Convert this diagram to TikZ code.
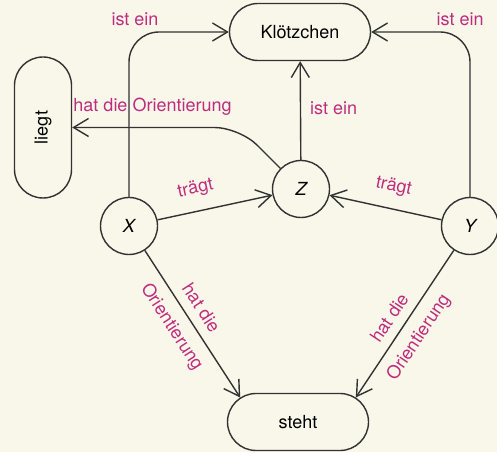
\documentclass[tikz,border=0pt]{standalone}
\usepackage{fontspec}
\setmainfont{TeX Gyre Heros}
\usetikzlibrary{arrows.meta,shapes.misc}
\definecolor{papier}{RGB}{249,247,234}
\definecolor{beschrift}{RGB}{190,45,125}
\definecolor{strich}{RGB}{50,50,50}
\tikzset{
    mypill/.style={rounded rectangle,draw=strich,line width=1.4pt,minimum width=141pt,minimum height=57pt,inner sep=0pt},
    mystate/.style={circle,draw=strich,line width=1.4pt,minimum size=57pt,inner sep=0pt,font=\fontsize{18pt}{21pt}\selectfont\itshape},
    myedge/.style={draw=strich,line width=1.4pt,-{Straight Barb[length=15pt,width=18pt]}},
    mylabel/.style={text=beschrift,inner sep=2pt},
    every node/.style={font=\fontsize{18pt}{21pt}\selectfont}
}

\begin{document}
\begin{tikzpicture}[x=1pt,y=1pt]
  \fill[papier] (0,0) rectangle (497,452);
  \useasboundingbox (0,0) rectangle (497,452);

  % Begriffe
  \node[mypill] (kl) at (300,420) {Klötzchen};
  \node[mypill,rotate=90] (liegt) at (43,324.5) {liegt};
  \node[mypill] (steht) at (298,30) {steht};

  % Variablen
  \node[mystate] (X) at (129,226) {X};
  \node[mystate] (Z) at (301,263) {Z};
  \node[mystate] (Y) at (470,226) {Y};
  \coordinate (knick) at (239.5,324.5);

  % ist ein
  \draw[myedge,rounded corners=30pt] (X.north) |-
    node[mylabel,above=4pt,pos=0.53] (l1) {ist ein} (kl.west);
  \draw[myedge,rounded corners=30pt] (Y.north) |-
    node[mylabel,above=4pt,pos=0.55] (l2) {ist ein} (kl.east);
  \draw[myedge] (Z) --
    node[mylabel,right=7pt,pos=0.52] (l3) {ist ein} (kl);

  % hat die Orientierung
  \draw[myedge,rounded corners=25pt] (Z.135) -- (knick) --
    node[mylabel,above=9pt,pos=0.52] (l4) {hat die Orientierung} (liegt);
  \draw[myedge] (X) --
    node[mylabel,sloped,above=7pt,pos=0.45] (l7) {hat die}
    node[mylabel,sloped,below=8pt,pos=0.45] (l8) {Orientierung} (steht.157);
  \draw[myedge] (Y) --
    node[mylabel,sloped,above=7pt,pos=0.52] (l9) {hat die}
    node[mylabel,sloped,below=8pt,pos=0.52] (l10) {Orientierung} (steht.23);

  % traegt
  \draw[myedge] (X) --
    node[mylabel,sloped,above=11pt,pos=0.37] (l5) {trägt} (Z);
  \draw[myedge] (Y) --
    node[mylabel,sloped,above=11pt,pos=0.47] (l6) {trägt} (Z);
\end{tikzpicture}
\end{document}
